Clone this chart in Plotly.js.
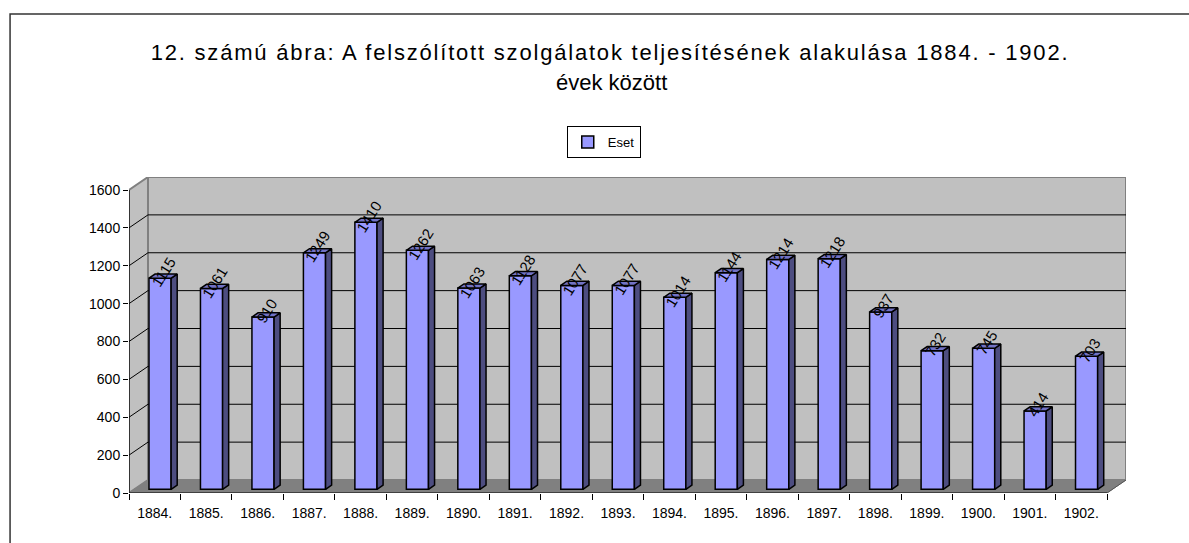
<!DOCTYPE html>
<html>
<head>
<meta charset="utf-8">
<script src="https://cdn.plot.ly/plotly-3.0.1.min.js"></script>
<style>
html,body{margin:0;padding:0;background:#fff;}
#chart{width:1189px;height:543px;}
#chart .gtitle{letter-spacing:1.8px;}
</style>
</head>
<body>
<div id="chart"></div>
<script>
// ---- data ----
const years = ['1884.','1885.','1886.','1887.','1888.','1889.','1890.','1891.','1892.','1893.','1894.','1895.','1896.','1897.','1898.','1899.','1900.','1901.','1902.'];
const eset = [1115,1061,910,1249,1410,1262,1063,1128,1077,1077,1014,1144,1214,1218,937,732,745,414,703];
const yTicks = [0,200,400,600,800,1000,1200,1400,1600];
const seriesName = 'Eset';
const titleLine1 = '12. számú ábra: A felszólított szolgálatok teljesítésének alakulása 1884. - 1902.';
const titleLine2 = 'évek között';

// ---- geometry (pseudo 3D) ----
const W = 1189, H = 543;
const L = 129, T = 177, B = 50;
const PX_CAT = 51.5;
const YMAX = 1600;
const PX_UNIT = 303 / YMAX;
const DX = 19 / PX_CAT;          // depth offset in category units
const DY = 13 / PX_UNIT;         // depth offset in value units
const N = years.length;
const F1 = 0.28, F2 = 0.60, BW = 0.43;
const PW = (N + DX) * PX_CAT;
const PH = H - T - B;
const R = W - L - PW;

const centers = years.map((_, i) => i + 0.5 + F1 * DX);
const base = F1 * DY;
const ddx = (F2 - F1) * DX, ddy = (F2 - F1) * DY;

const sideX = [], sideY = [], topX = [], topY = [];
eset.forEach((v, i) => {
  const cx = centers[i];
  const x0 = cx + BW / 2, x1 = cx - BW / 2;
  const top = v + base;
  sideX.push(x0, x0 + ddx, x0 + ddx, x0, x0, null);
  sideY.push(base, base + ddy, top + ddy, top, base, null);
  topX.push(x1, x0, x0 + ddx, x1 + ddx, x1, null);
  topY.push(top, top, top + ddy, top + ddy, top, null);
});

const FONT = 'Liberation Sans, Arial, sans-serif';

const traces = [
  {
    type: 'bar', name: seriesName, x: centers, y: eset, base: base, width: BW,
    marker: {color: '#9999FF', line: {color: '#000', width: 1.5}},
    hoverinfo: 'skip'
  },
  {
    type: 'scatter', mode: 'lines', x: sideX, y: sideY, fill: 'toself',
    fillcolor: '#4D4D80', line: {color: '#000', width: 1.5}, showlegend: false, hoverinfo: 'skip'
  },
  {
    type: 'scatter', mode: 'lines', x: topX, y: topY, fill: 'toself',
    fillcolor: '#7272C4', line: {color: '#000', width: 1.5}, showlegend: false, hoverinfo: 'skip'
  },
  {
    type: 'scatter', mode: 'markers', x: years.map((_, i) => i + 0.5), y: years.map(() => 0),
    xaxis: 'x2', marker: {opacity: 0}, showlegend: false, hoverinfo: 'skip'
  }
];

const shapes = [];
// frame
shapes.push({type: 'rect', xref: 'paper', yref: 'paper',
  x0: (10 - L) / PW, x1: 1.3,
  y0: -0.5, y1: (H - B - 14) / PH,
  line: {color: '#333', width: 1.5}, fillcolor: 'rgba(0,0,0,0)', layer: 'below'});
// back wall
shapes.push({type: 'rect', xref: 'x', yref: 'y', x0: DX, x1: N + DX, y0: DY, y1: YMAX + DY,
  fillcolor: '#C0C0C0', line: {color: '#808080', width: 2}, layer: 'below'});
// left wall
shapes.push({type: 'path', xref: 'x', yref: 'y',
  path: `M0,0 L${DX},${DY} L${DX},${YMAX + DY} L0,${YMAX} Z`,
  fillcolor: '#C0C0C0', line: {color: '#808080', width: 2}, layer: 'below'});
// floor
shapes.push({type: 'path', xref: 'x', yref: 'y',
  path: `M0,0 L${N},0 L${N + DX},${DY} L${DX},${DY} Z`,
  fillcolor: '#808080', line: {color: '#808080', width: 1}, layer: 'below'});
// gridlines on back wall and left wall
yTicks.forEach(v => {
  if (v === 0 || v >= YMAX) return;
  shapes.push({type: 'line', xref: 'x', yref: 'y', x0: DX, x1: N + DX, y0: v + DY, y1: v + DY,
    line: {color: '#000', width: 1}, layer: 'below'});
  shapes.push({type: 'line', xref: 'x', yref: 'y', x0: 0, x1: DX, y0: v, y1: v + DY,
    line: {color: '#000', width: 1}, layer: 'below'});
});
// front axes
shapes.push({type: 'line', xref: 'x', yref: 'y', x0: 0, x1: 0, y0: 0, y1: YMAX, line: {color: '#000', width: 1.2}});
shapes.push({type: 'line', xref: 'x', yref: 'y', x0: 0, x1: N, y0: 0, y1: 0, line: {color: '#000', width: 1.2}});
shapes.push({type: 'line', xref: 'x', yref: 'y', x0: N, x1: N + DX, y0: 0, y1: DY, line: {color: '#555', width: 1}});

const annotations = eset.map((v, i) => ({
  x: centers[i], y: v + base, xref: 'x', yref: 'y', text: String(v), showarrow: false,
  textangle: -58, xshift: 3, yshift: 6, font: {family: FONT, size: 15, color: '#000'}
}));
annotations.push({
  x: 612 / W, xref: 'paper', y: (H - B - 83) / PH, yref: 'paper', xanchor: 'center', yanchor: 'middle',
  text: titleLine2, showarrow: false, font: {family: FONT, size: 22, color: '#000'}
});
annotations[annotations.length - 1].x = (612 - L) / PW;

const layout = {
  width: W, height: H, autosize: false,
  margin: {l: L, r: R, t: T, b: B, pad: 0},
  paper_bgcolor: '#fff', plot_bgcolor: 'rgba(0,0,0,0)',
  font: {family: FONT, color: '#000'},
  title: {text: titleLine1, font: {family: FONT, size: 22, color: '#000'},
    x: 610 / W, xanchor: 'center', y: 1 - 52 / H, yanchor: 'middle', yref: 'container'},
  showlegend: true,
  legend: {x: (604 - L) / PW, xanchor: 'center',
    y: (H - B - 126) / PH, yanchor: 'top',
    bordercolor: '#000', borderwidth: 1, bgcolor: '#fff',
    font: {family: FONT, size: 13}, itemwidth: 30},
  bargap: 0,
  xaxis: {range: [0, N + DX], tickmode: 'array', tickvals: years.map((_, i) => i).concat([N]),
    showticklabels: false, ticks: 'outside', ticklen: 6, tickcolor: '#000', tickwidth: 1,
    showgrid: false, zeroline: false, showline: false, fixedrange: true, automargin: false},
  xaxis2: {range: [0, N + DX], overlaying: 'x', side: 'bottom', tickmode: 'array',
    tickvals: years.map((_, i) => i + 0.5), ticktext: years, ticks: '', ticklabelstandoff: 10,
    tickfont: {family: FONT, size: 14, color: '#000'},
    showgrid: false, zeroline: false, showline: false, fixedrange: true, automargin: false},
  yaxis: {range: [0, YMAX + DY], tickmode: 'array', tickvals: yTicks, ticktext: yTicks.map(String),
    ticks: 'outside', ticklen: 5, tickcolor: '#000', tickwidth: 1,
    tickfont: {family: FONT, size: 14, color: '#000'},
    showgrid: false, zeroline: false, showline: false, fixedrange: true, automargin: false},
  shapes: shapes,
  annotations: annotations
};

Plotly.newPlot('chart', traces, layout, {displayModeBar: false, staticPlot: true});
</script>
</body>
</html>
